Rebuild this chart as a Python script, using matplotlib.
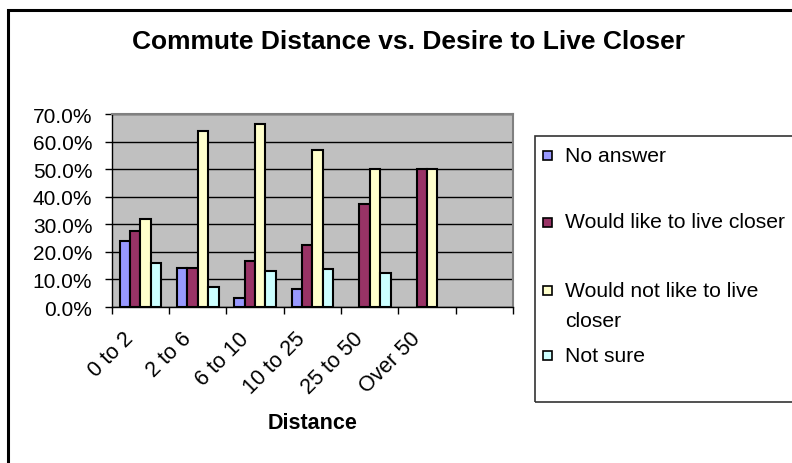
import matplotlib.pyplot as plt
import numpy as np
from matplotlib.patches import Rectangle
from matplotlib.ticker import PercentFormatter

plt.rcParams['font.family'] = ['Liberation Sans', 'DejaVu Sans']

nan = np.nan
categories = ['0 to 2', '2 to 6', '6 to 10', '10 to 25', '25 to 50', 'Over 50', '']
series = ['No answer', 'Would like to live closer',
          'Would not like to live\ncloser', 'Not sure']
no_answer = [0.238, 0.143, 0.034, 0.064, nan, nan, nan]
like_closer = [0.274, 0.143, 0.167, 0.225, 0.375, 0.50, nan]
not_like_closer = [0.319, 0.640, 0.664, 0.568, 0.50, 0.50, nan]
not_sure = [0.158, 0.071, 0.131, 0.137, 0.125, nan, nan]
colors = ['#9999FF', '#993366', '#FFFFCC', '#CCFFFF']

W, H = 792, 464
fig = plt.figure(figsize=(W / 100, H / 100), dpi=100)

def px(x0, y0, x1, y1):
    return [x0 / W, 1 - y1 / H, (x1 - x0) / W, (y1 - y0) / H]

# outer chart border (right/bottom fall off the picture)
fig.patches.append(Rectangle((8 / W, -0.1), 1.1, 1 - 11 / H + 0.1, transform=fig.transFigure,
                             fill=False, edgecolor='black', linewidth=2.2, clip_on=False))

ax = fig.add_axes(px(111.7, 115, 513, 308))
ax.set_facecolor('#C0C0C0')

x = np.arange(len(categories))
w = 1 / 5.5
for i, vals in enumerate([no_answer, like_closer, not_like_closer, not_sure]):
    ax.bar(x + (i - 1.5) * w, vals, w, color=colors[i], edgecolor='black',
           linewidth=1.5, zorder=3)

ax.set_xlim(-0.5, len(categories) - 0.5)
ax.set_ylim(0, 0.7)
ax.set_yticks(np.arange(0, 0.71, 0.1))
ax.yaxis.set_major_formatter(PercentFormatter(1.0, decimals=1))
ax.grid(axis='y', color='black', linewidth=1, zorder=1)
ax.set_axisbelow(True)

# labels sit a little left of the category centre, as Excel draws them
ax.set_xticks(x - 0.3)
ax.set_xticklabels(categories, rotation=45, ha='right', rotation_mode='anchor')
ax.set_xticks(np.arange(-0.5, len(categories)), minor=True)
ax.tick_params(axis='x', which='major', length=0, pad=15, labelsize=15.5)
ax.tick_params(axis='x', which='minor', length=5, width=1, direction='out')
ax.tick_params(axis='y', length=5, width=1, direction='out', labelsize=15, pad=9)

for s in ['top', 'right']:
    ax.spines[s].set_color('#808080')
    ax.spines[s].set_linewidth(1.5)
for s in ['left', 'bottom']:
    ax.spines[s].set_color('black')
    ax.spines[s].set_linewidth(1)

ax.set_xlabel('Distance', fontsize=15.5, fontweight='bold', va='center')
ax.xaxis.set_label_coords(0.5, -(424 - 308) / 193)

fig.text(408 / W, 1 - 42 / H, 'Commute Distance vs. Desire to Live Closer',
         ha='center', va='center', fontsize=19, fontweight='bold')

# legend box
fig.patches.append(Rectangle((535 / W, 1 - 403 / H), 0.5, (403 - 137) / H,
                             transform=fig.transFigure, fill=False,
                             edgecolor='#333333', linewidth=1.2, clip_on=False))
marker_y = [156.7, 223, 291.7, 356]
for i, label in enumerate(series):
    fig.patches.append(Rectangle(((547 - 4.5) / W, 1 - (marker_y[i] + 4.5) / H), 9 / W, 9 / H,
                                 transform=fig.transFigure, facecolor=colors[i],
                                 edgecolor='black', linewidth=1.2))
    for k, line in enumerate(label.split('\n')):
        fig.text(565 / W, 1 - (marker_y[i] + k * 30) / H, line,
                 ha='left', va='center', fontsize=15.2)

fig.savefig('out.png', dpi=100)
